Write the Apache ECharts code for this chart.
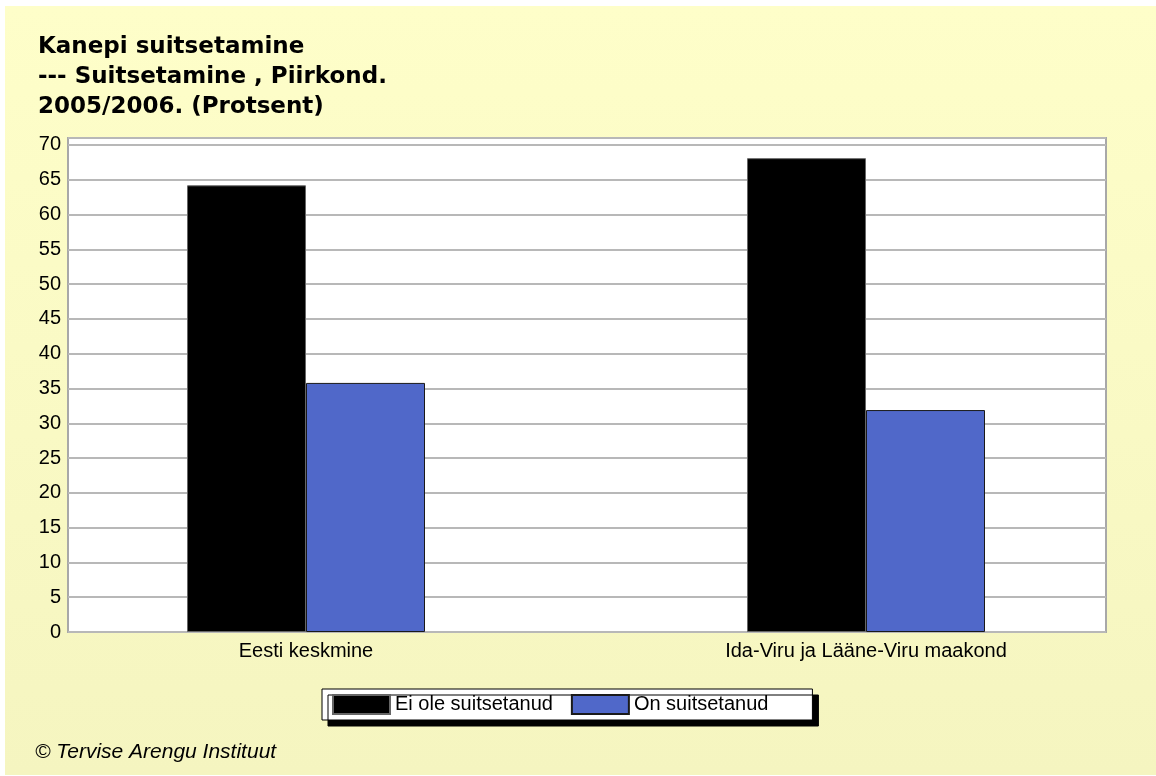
<!DOCTYPE html>
<html>
<head>
<meta charset="utf-8">
<script src="https://cdn.jsdelivr.net/npm/echarts@6/dist/echarts.min.js"></script>
<style>
  html, body { margin: 0; padding: 0; background: #fff; }
  #bg { position: absolute; left: 5px; top: 6px; width: 1151px; height: 769px;
        background: linear-gradient(#fefec9, #f5f5c0); }
  #chart { position: absolute; left: 0; top: 0; width: 1156px; height: 776px; }
</style>
</head>
<body>
<div id="bg"></div>
<div id="chart"></div>
<script>
  // andmed
  const categories = ['Eesti keskmine', 'Ida-Viru ja Lääne-Viru maakond'];
  const seriesNames = ['Ei ole suitsetanud', 'On suitsetanud'];
  const eiOle = [64.2, 68.1];
  const onSuitsetanud = [35.8, 31.9];
  const titleText = 'Kanepi suitsetamine\n--- Suitsetamine , Piirkond.\n2005/2006. (Protsent)';
  const footerText = '© Tervise Arengu Instituut';

  const sans = 'Liberation Sans, Arial, sans-serif';

  let myChart = echarts.init(document.getElementById('chart'));
  myChart.setOption({
    backgroundColor: 'transparent',
    animation: false,
    title: {
      text: titleText,
      left: 38,
      top: 32,
      padding: 0,
      textStyle: {
        fontFamily: 'DejaVu Sans',
        fontWeight: 'bold',
        fontSize: 23,
        lineHeight: 30,
        color: '#000'
      }
    },
    legend: {
      data: seriesNames,
      icon: 'rect',
      left: 322,
      top: 689,
      orient: 'horizontal',
      padding: [5, 44, 5, 10],
      itemWidth: 57,
      itemHeight: 19,
      itemGap: 18,
      backgroundColor: '#fff',
      borderColor: '#000',
      borderWidth: 1,
      shadowColor: '#000',
      shadowBlur: 0,
      shadowOffsetX: 6,
      shadowOffsetY: 6,
      textStyle: { fontFamily: sans, fontSize: 20, color: '#000' }
    },
    graphic: [{
      type: 'text',
      left: 35,
      top: 742,
      style: {
        text: footerText,
        font: 'italic 21px Liberation Sans',
        fill: '#000'
      }
    }],
    grid: [
      // nähtav joonise ala
      { left: 68, right: 50, top: 138, bottom: 144, show: true,
        backgroundColor: '#fff', borderColor: '#a8a8a8', borderWidth: 2 },
      // tulpade jaoks
      { left: 26, right: 10, top: 138, bottom: 144 }
    ],
    xAxis: [
      { gridIndex: 0, type: 'value', min: 0, max: 1, show: false },
      {
        gridIndex: 1,
        type: 'category',
        data: categories,
        axisLine: { show: false },
        axisTick: { show: false },
        splitLine: { show: false },
        axisLabel: { margin: 9, fontFamily: sans, fontSize: 20, color: '#000' }
      }
    ],
    yAxis: [
      {
        gridIndex: 0,
        type: 'value',
        min: 0,
        max: 71,
        interval: 5,
        axisLine: { show: false },
        axisTick: { show: false },
        splitLine: { show: true, lineStyle: { color: '#b8b8b8', width: 2 } },
        axisLabel: {
          margin: 7,
          fontFamily: sans,
          fontSize: 20,
          color: '#000',
          formatter: function (v) { return v % 5 === 0 ? v : ''; }
        }
      },
      { gridIndex: 1, type: 'value', min: 0, max: 71, show: false }
    ],
    series: [
      {
        name: seriesNames[0],
        type: 'bar',
        xAxisIndex: 1,
        yAxisIndex: 1,
        barWidth: 119,
        barGap: '0%',
        data: eiOle,
        itemStyle: { color: '#000', borderColor: '#666', borderWidth: 1 }
      },
      {
        name: seriesNames[1],
        type: 'bar',
        xAxisIndex: 1,
        yAxisIndex: 1,
        barWidth: 119,
        barGap: '0%',
        data: onSuitsetanud,
        itemStyle: { color: '#5068c9', borderColor: '#1a1a1a', borderWidth: 1 }
      }
    ]
  });
</script>
</body>
</html>
